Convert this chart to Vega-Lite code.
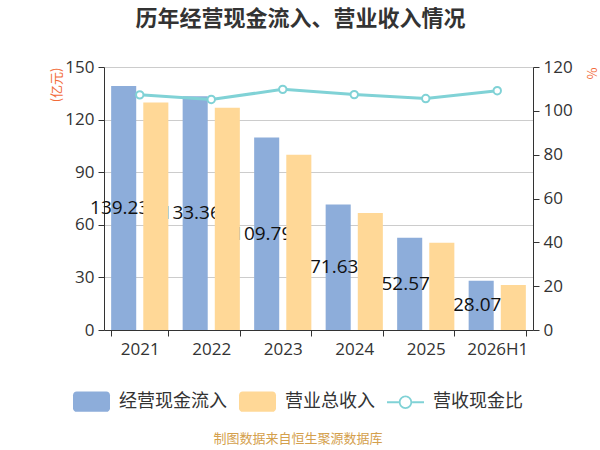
{
  "$schema": "https://vega.github.io/schema/vega-lite/v6.json",
  "autosize": {"type": "none"},
  "width": 429,
  "height": 263,
  "padding": {"left": 104, "top": 67, "right": 67, "bottom": 120},
  "background": "white",
  "config": {
    "font": "Open Sans, Noto Sans CJK SC",
    "view": {"stroke": null},
    "axis": {"labelFont": "Open Sans, Noto Sans CJK SC", "titleFont": "Noto Sans CJK SC"}
  },
  "title": {
    "text": "历年经营现金流入、营业收入情况",
    "font": "Noto Sans CJK SC",
    "fontSize": 22,
    "fontWeight": "bold",
    "color": "#333333",
    "anchor": "middle",
    "dx": -18,
    "baseline": "middle",
    "offset": 17
  },
  "datasets": {
    "bars": [
      {"year": "2021", "series": "经营现金流入", "value": 139.23},
      {"year": "2021", "series": "营业总收入", "value": 129.7},
      {"year": "2022", "series": "经营现金流入", "value": 133.36},
      {"year": "2022", "series": "营业总收入", "value": 126.8},
      {"year": "2023", "series": "经营现金流入", "value": 109.79},
      {"year": "2023", "series": "营业总收入", "value": 100.0},
      {"year": "2024", "series": "经营现金流入", "value": 71.63},
      {"year": "2024", "series": "营业总收入", "value": 66.7},
      {"year": "2025", "series": "经营现金流入", "value": 52.57},
      {"year": "2025", "series": "营业总收入", "value": 49.8},
      {"year": "2026H1", "series": "经营现金流入", "value": 28.07},
      {"year": "2026H1", "series": "营业总收入", "value": 25.7}
    ],
    "ratio": [
      {"year": "2021", "ratio": 107.3},
      {"year": "2022", "ratio": 105.2},
      {"year": "2023", "ratio": 109.8},
      {"year": "2024", "ratio": 107.4},
      {"year": "2025", "ratio": 105.6},
      {"year": "2026H1", "ratio": 109.2}
    ]
  },
  "encoding": {
    "x": {
      "field": "year",
      "type": "nominal",
      "sort": null,
      "scale": {"paddingInner": 0.2, "paddingOuter": 0.1},
      "axis": {
        "title": null,
        "labelAngle": 0,
        "labelFontSize": 17,
        "labelColor": "#333333",
        "labelPadding": 5,
        "domainColor": "#333333",
        "tickColor": "#333333",
        "tickSize": 6,
        "tickBand": "extent",
        "grid": false
      }
    }
  },
  "layer": [
    {
      "data": {"name": "bars"},
      "encoding": {
        "xOffset": {
          "field": "series",
          "type": "nominal",
          "scale": {"domain": ["经营现金流入", "营业总收入"], "paddingInner": 0.22}
        },
        "color": {
          "field": "series",
          "type": "nominal",
          "scale": {
            "domain": ["经营现金流入", "营业总收入", "营收现金比"],
            "range": ["#8dadda", "#ffd897", "#80d2d6"]
          },
          "legend": {
            "orient": "none",
            "legendX": -31,
            "legendY": 316,
            "direction": "horizontal",
            "padding": 0,
            "title": "制图数据来自恒生聚源数据库",
            "titleOrient": "bottom",
            "titleAnchor": "middle",
            "titleColor": "#d4a04c",
            "titleFont": "Noto Sans CJK SC",
            "titleFontSize": 13,
            "titleFontWeight": "normal",
            "titlePadding": 21,
            "labelFont": "Noto Sans CJK SC",
            "labelFontSize": 18,
            "labelColor": "#333333",
            "labelOffset": 9,
            "columnPadding": 12,
            "symbolSize": 1369,
            "symbolStrokeWidth": 0,
            "symbolOpacity": 1,
            "encode": {
              "symbols": {
                "update": {
                  "shape": {"signal": "datum.value === '营收现金比' ? 'M-1,-0.054H-0.36V0.054H-1Z M0.36,-0.054H1V0.054H0.36Z M-0.36,0A0.36,0.36 0 1 1 0.36,0A0.36,0.36 0 1 1 -0.36,0Z M-0.265,0A0.265,0.265 0 1 0 0.265,0A0.265,0.265 0 1 0 -0.265,0Z' : 'M-0.8,-0.55H0.8A0.2,0.2 0 0 1 1,-0.35V0.35A0.2,0.2 0 0 1 0.8,0.55H-0.8A0.2,0.2 0 0 1 -1,0.35V-0.35A0.2,0.2 0 0 1 -0.8,-0.55Z'"},
                  "fill": {"signal": "scale('color', datum.value)"},
                  "strokeWidth": {"value": 0},
                  "size": {"value": 1369},
                  "opacity": {"value": 1}
                }
              }
            }
          }
        },
        "y": {
          "field": "value",
          "type": "quantitative",
          "scale": {"domain": [0, 150]},
          "axis": {
            "title": "(亿元)",
            "titleColor": "#f26b3a",
            "titleFontSize": 13,
            "titleFontWeight": "normal",
            "titleAngle": -90,
            "titleAlign": "right",
            "titleBaseline": "middle",
            "titleX": -48,
            "titleY": 0,
            "values": [0, 30, 60, 90, 120, 150],
            "labelFontSize": 17,
            "labelColor": "#333333",
            "labelPadding": 4,
            "domainColor": "#333333",
            "tickColor": "#333333",
            "tickSize": 6,
            "grid": true,
            "gridColor": "#cccccc"
          }
        }
      },
      "layer": [
        {
          "transform": [{"filter": "datum.series === '经营现金流入'"}],
          "mark": {"type": "bar", "opacity": 1}
        },
        {
          "transform": [
            {"filter": "datum.series === '经营现金流入'"},
            {"calculate": "datum.value / 2", "as": "mid"}
          ],
          "mark": {"type": "text", "fontSize": 19, "color": "#111111", "dx": -4, "baseline": "middle", "font": "Open Sans"},
          "encoding": {
            "y": {"field": "mid", "type": "quantitative"},
            "text": {"field": "value", "type": "quantitative", "format": ".2f"},
            "color": {"value": "#111111"}
          }
        },
        {
          "transform": [{"filter": "datum.series === '营业总收入'"}],
          "mark": {"type": "bar", "opacity": 1}
        }
      ]
    },
    {
      "data": {"name": "ratio"},
      "encoding": {
        "y": {
          "field": "ratio",
          "type": "quantitative",
          "scale": {"domain": [0, 120]},
          "axis": {
            "orient": "right",
            "title": "%",
            "titleColor": "#f26b3a",
            "titleFontSize": 13,
            "titleFontWeight": "normal",
            "titleAngle": 90,
            "titleAlign": "left",
            "titleBaseline": "middle",
            "titleX": 57,
            "titleY": 0,
            "values": [0, 20, 40, 60, 80, 100, 120],
            "labelFontSize": 17,
            "labelColor": "#333333",
            "labelPadding": 4,
            "domainColor": "#333333",
            "tickColor": "#333333",
            "tickSize": 6,
            "grid": false
          }
        }
      },
      "layer": [
        {
          "mark": {"type": "line", "strokeWidth": 3},
          "encoding": {"color": {"datum": "营收现金比"}}
        },
        {
          "mark": {"type": "point", "shape": "circle", "size": 55, "filled": false, "fill": "#ffffff", "fillOpacity": 1, "stroke": "#80d2d6", "strokeWidth": 2, "opacity": 1}
        }
      ]
    }
  ],
  "resolve": {"scale": {"y": "independent"}}
}
